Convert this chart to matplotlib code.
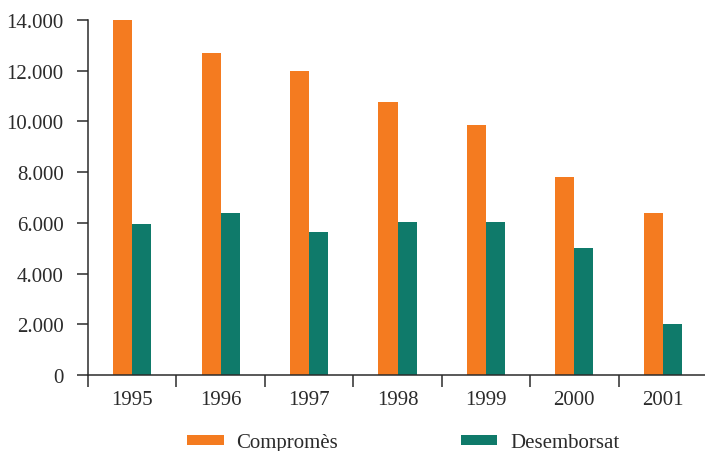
import matplotlib
matplotlib.use("Agg")
import matplotlib.pyplot as plt
from matplotlib.ticker import FuncFormatter, FixedLocator
import numpy as np

years = ["1995", "1996", "1997", "1998", "1999", "2000", "2001"]
compromes = [14000, 12700, 12000, 10770, 9860, 7810, 6390]
desemborsat = [5950, 6390, 5640, 6030, 6030, 5000, 2010]
series_names = ["Compromès", "Desemborsat"]
y_ticks = [0, 2000, 4000, 6000, 8000, 10000, 12000, 14000]

orange = "#F47B20"
teal = "#0F7A6A"
ink = "#2B2B2B"

plt.rcParams["font.family"] = ["Liberation Serif", "DejaVu Serif"]
plt.rcParams["font.size"] = 15

fig = plt.figure(figsize=(7.05, 4.52), dpi=100)
ax = fig.add_axes([88 / 705, 76 / 452, 619 / 705, 355 / 452])

x = np.arange(len(years))
w = 0.215
b1 = ax.bar(x - w / 2, compromes, width=w, color=orange, label=series_names[0])
b2 = ax.bar(x + w / 2, desemborsat, width=w, color=teal, label=series_names[1])

ax.set_xlim(-0.5, len(years) - 0.5)
ax.set_ylim(0, 14000)

for s in ["top", "right"]:
    ax.spines[s].set_visible(False)
for s in ["left", "bottom"]:
    ax.spines[s].set_color(ink)
    ax.spines[s].set_linewidth(1.1)

ax.yaxis.set_major_locator(FixedLocator(y_ticks))
ax.yaxis.set_major_formatter(FuncFormatter(lambda v, p: f"{int(v):,}".replace(",", ".")))
ax.tick_params(axis="y", length=8, width=1.1, color=ink, pad=9.5, labelcolor=ink, labelsize=15)

ax.set_xticks(x)
ax.set_xticklabels(years)
ax.set_xticks(np.arange(-0.5, len(years) + 0.5, 1.0), minor=True)
ax.tick_params(axis="x", which="major", length=0, pad=10.5, labelcolor=ink, labelsize=15)
ax.tick_params(axis="x", which="minor", length=8.5, width=1.1, color=ink)

fig.legend(handles=[b1, b2], labels=series_names, loc="center left",
           bbox_to_anchor=(179 / 705, 1 - 444 / 452), ncol=2, frameon=False,
           handlelength=1.75, handleheight=0.38, handletextpad=0.6,
           columnspacing=5.9, fontsize=15, labelcolor=ink, borderaxespad=0)

fig.savefig("out.png", dpi=100)
